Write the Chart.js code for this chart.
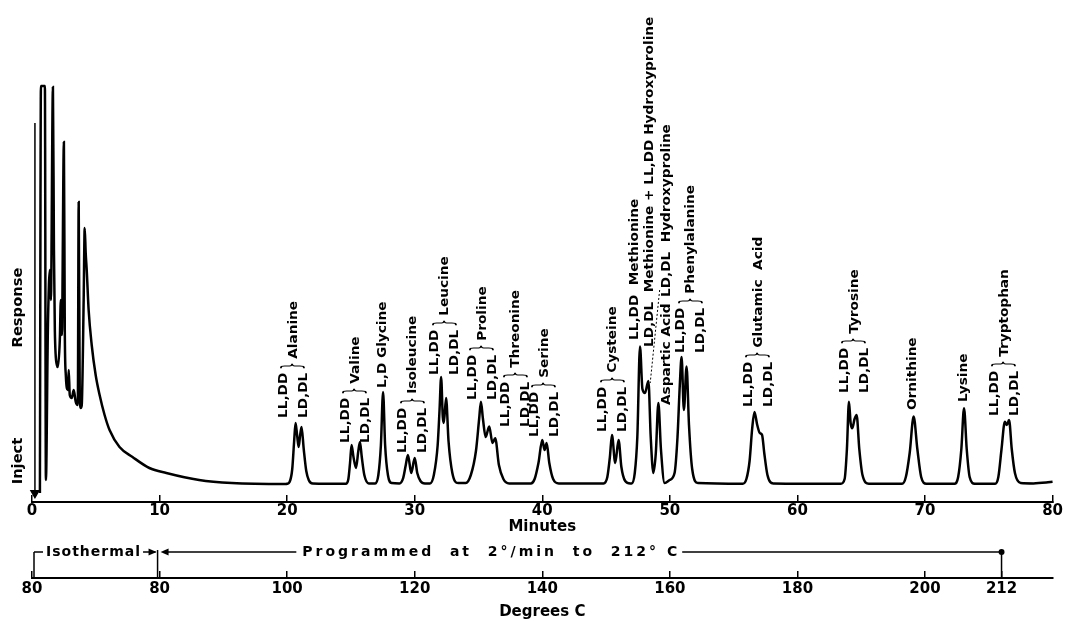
<!DOCTYPE html>
<html lang="en">
<head>
  <meta charset="UTF-8">
  <title>Amino acid dipeptide chromatogram</title>
  <script src="https://cdn.jsdelivr.net/npm/chart.js"></script>
  <style>
    html, body { margin: 0; background: #fff; }
    canvas { display: block; }
  </style>
</head>
<body>
  <canvas id="chrom" width="1070" height="621"></canvas>
  <script>
    // recorder trace: [minutes, response]
    const solventTrace = [
      [0.62, -2], [0.70, 99.75], [1.01, 99.75], [1.09, 1.25], [1.25, 40], [1.40, 53.75],
      [1.48, 46.25], [1.64, 99.5], [1.72, 58.75], [1.79, 38.75], [1.95, 30], [2.03, 29.5],
      [2.18, 36.25], [2.26, 46.25], [2.34, 37.5], [2.50, 85.75], [2.57, 38.75], [2.65, 27.5],
      [2.81, 23.75], [2.88, 28.75], [2.96, 22.5], [3.12, 21.75], [3.27, 23.75], [3.43, 20.75],
      [3.59, 20], [3.66, 70.75], [3.74, 23.75], [3.82, 19.25], [3.90, 20], [4.05, 46.25],
      [4.13, 64.25], [4.21, 58], [4.29, 53.75], [4.44, 43.75], [4.68, 35], [4.99, 27.5],
      [5.30, 22.5], [5.69, 17.5], [6.08, 13.75], [6.86, 9.5], [7.88, 7], [9.20, 4.25],
      [10.53, 3], [13.10, 1.25], [15.67, 0.5], [19.88, 0.25]
    ];
    const alanineTrace = [
      [20.0, 0.3], [20.2, 0.8], [20.4, 4], [20.55, 11], [20.66, 15.5], [20.78, 12.5], [20.90, 9.5],
      [21.02, 12.5], [21.13, 14.5], [21.3, 9], [21.5, 3.5], [21.7, 1.2], [22.0, 0.4]
    ];
    const valineTrace = [
      [24.6, 0.3], [24.8, 1.5], [24.93, 5.5], [25.05, 10], [25.2, 7], [25.40, 4.25], [25.58, 8.5],
      [25.71, 10.75], [25.85, 7], [26.05, 2.5], [26.4, 0.4]
    ];
    const glycineTrace = [
      [26.9, 0.4], [27.15, 2.5], [27.35, 10], [27.52, 23.25], [27.68, 10], [27.9, 2.5], [28.2, 0.5]
    ];
    const isoleucineTrace = [
      [28.8, 0.4], [29.1, 1.8], [29.3, 5], [29.47, 7.5], [29.73, 3], [30.0, 6.75], [30.2, 3],
      [30.45, 1], [30.8, 0.4]
    ];
    const leucineTrace = [
      [31.2, 0.4], [31.5, 2.5], [31.8, 10], [31.95, 19], [32.07, 27], [32.2, 17], [32.28, 15.5],
      [32.46, 21.75], [32.65, 11], [32.95, 3], [33.4, 0.5]
    ];
    const prolineTrace = [
      [34.0, 0.5], [34.4, 2.5], [34.8, 8.5], [35.05, 16.5], [35.19, 20.8], [35.35, 16.5],
      [35.56, 12], [35.84, 14.6], [36.10, 10.5], [36.31, 11.7], [36.6, 5], [36.95, 1.5], [37.4, 0.4]
    ];
    const serineTrace = [
      [39.1, 0.4], [39.4, 1.5], [39.7, 5.5], [40.0, 11.25], [40.18, 8.75], [40.34, 10.5],
      [40.55, 5.5], [40.85, 1.5], [41.3, 0.4]
    ];
    const cysteineTrace = [
      [44.8, 0.4], [45.1, 2], [45.3, 7], [45.46, 12.5], [45.72, 5.5], [45.98, 11.25], [46.2, 4.5],
      [46.5, 1], [46.9, 0.4]
    ];
    const methionineTrace = [
      [47.0, 0.4], [47.25, 3], [47.45, 12], [47.66, 34.6], [47.85, 24], [48.05, 23], [48.32, 26],
      [48.5, 12], [48.71, 3], [48.9, 8], [49.10, 20.5], [49.3, 9], [49.59, 0.5], [49.98, 1.25],
      [50.37, 3], [50.6, 12], [50.78, 25], [50.92, 32], [51.10, 18.75], [51.31, 29.6], [51.5, 15],
      [51.75, 4], [52.2, 0.5]
    ];
    const glutamicTrace = [
      [55.7, 0.3], [56.0, 1.5], [56.25, 6], [56.45, 14], [56.63, 18.25], [56.85, 15], [57.05, 13],
      [57.23, 12.5], [57.4, 8], [57.65, 2.5], [58.1, 0.4]
    ];
    const tyrosineTrace = [
      [63.4, 0.3], [63.7, 1.5], [63.88, 9], [64.04, 20.8], [64.17, 15.5], [64.30, 14.2],
      [64.48, 16.5], [64.64, 17.5], [64.85, 9], [65.1, 2.5], [65.6, 0.3]
    ];
    const ornithineTrace = [
      [68.2, 0.3], [68.5, 2], [68.8, 8], [69.11, 17.1], [69.4, 9], [69.7, 2], [70.1, 0.3]
    ];
    const lysineTrace = [
      [72.3, 0.3], [72.6, 2], [72.85, 9], [73.06, 19.2], [73.27, 9], [73.5, 2], [73.9, 0.3]
    ];
    const tryptophanTrace = [
      [75.5, 0.3], [75.75, 2], [76.0, 9], [76.26, 15.8], [76.42, 15], [76.59, 16.25], [76.8, 9],
      [77.05, 3], [77.5, 0.5], [78.5, 0.4], [79.5, 0.6], [80, 0.8]
    ];

    // axes
    const minuteTicks = [0, 10, 20, 30, 40, 50, 60, 70, 80];
    const degreeTickMinutes = [0, 10, 20, 30, 40, 50, 60, 70, 76];
    const degreeLabels = ['80', '80', '100', '120', '140', '160', '180', '200', '212'];

    // injection marker: time (min) and the response where the arrow starts / ends
    const injectAt = 0.23;
    const injectFrom = 90.5;
    const injectTo = -2;

    // peak labels: "LL,DD / LD,DL } name" pairs, and single columns
    const pairLines = ['LL,DD', 'LD,DL'];
    const pairedPeaks = [
      { name: 'Alanine', at: 20.47, base: 16.75 },
      { name: 'Valine', at: 25.34, base: 10.5 },
      { name: 'Isoleucine', at: 29.86, base: 8 },
      { name: 'Leucine', at: 32.36, base: 27.5 },
      { name: 'Proline', at: 35.32, base: 21.25 },
      { name: 'Threonine', at: 37.93, base: 14.5 },
      { name: 'Serine', at: 40.16, base: 12 },
      { name: 'Cysteine', at: 45.54, base: 13.25 },
      { name: 'Phenylalanine', at: 51.66, base: 33 },
      { name: 'Glutamic  Acid', at: 56.92, base: 19.5 },
      { name: 'Tyrosine', at: 64.48, base: 23 },
      { name: 'Tryptophan', at: 76.22, base: 17.25 }
    ];
    const singlePeaks = [
      { text: 'L,D Glycine', at: 27.52, base: 24.25 },
      { text: 'LL,DD  Methionine', at: 47.25, base: 36.25 },
      { text: 'LD,DL  Methionine + LL,DD Hydroxyproline', at: 48.42, base: 34.5 },
      { text: 'Aspartic Acid', at: 49.75, base: 20 },
      { text: 'LD,DL  Hydroxyproline', at: 49.75, base: 47 },
      { text: 'Ornithine', at: 69.0, base: 18.75 },
      { text: 'Lysine', at: 73.06, base: 20.75 }
    ];
    // dotted leader from the hydroxyproline label down to its shoulder
    const leaderFrom = [49.2, 48.75];
    const leaderTo = [48.46, 25.5];

    const FAMILY = '"DejaVu Sans", "Liberation Sans", sans-serif';
    const labelFont = 'bold 13px ' + FAMILY;

    const trace = [].concat(
      solventTrace, alanineTrace, valineTrace, glycineTrace, isoleucineTrace, leucineTrace,
      prolineTrace, serineTrace, cysteineTrace, methionineTrace, glutamicTrace, tyrosineTrace,
      ornithineTrace, lysineTrace, tryptophanTrace
    ).map(p => ({ x: p[0], y: p[1] }));

    // write a string bottom-to-top, starting at (x, y) on screen
    function upText(ctx, str, x, y, font, stretch, align) {
      ctx.save();
      ctx.translate(x, y);
      ctx.rotate(-Math.PI / 2);
      ctx.scale(stretch, 1);
      ctx.font = font;
      ctx.fillStyle = '#000';
      ctx.textAlign = align || 'left';
      ctx.textBaseline = 'middle';
      ctx.fillText(str, 0, 0);
      const w = ctx.measureText(str).width * stretch;
      ctx.restore();
      return w;
    }

    function arrowHead(ctx, x, y, dir) {
      ctx.beginPath();
      ctx.moveTo(x, y);
      ctx.lineTo(x - dir * 8, y - 3.5);
      ctx.lineTo(x - dir * 8, y + 3.5);
      ctx.closePath();
      ctx.fill();
    }

    function seg(ctx, x1, y1, x2, y2) {
      ctx.beginPath();
      ctx.moveTo(x1, y1);
      ctx.lineTo(x2, y2);
      ctx.stroke();
    }

    const annotations = {
      id: 'annotations',
      afterDraw(chart) {
        const ctx = chart.ctx;
        const xs = chart.scales.x, ys = chart.scales.y, x2 = chart.scales.x2;

        // peak names
        pairedPeaks.forEach(p => {
          const px = xs.getPixelForValue(p.at);
          const py = ys.getPixelForValue(p.base);
          const w1 = upText(ctx, pairLines[0], px - 10, py, labelFont, 1.05);
          const w2 = upText(ctx, pairLines[1], px + 10, py, labelFont, 1.05);
          const w = Math.max(w1, w2);
          upText(ctx, '}', px, py - w - 3, '26px ' + FAMILY, 0.45);
          upText(ctx, p.name, px, py - w - 14, labelFont, 1.05);
        });
        singlePeaks.forEach(p => {
          upText(ctx, p.text, xs.getPixelForValue(p.at), ys.getPixelForValue(p.base), labelFont, 1.05);
        });

        ctx.save();
        ctx.strokeStyle = '#000';
        ctx.fillStyle = '#000';
        ctx.lineWidth = 1;
        ctx.setLineDash([2, 2]);
        seg(ctx, xs.getPixelForValue(leaderFrom[0]), ys.getPixelForValue(leaderFrom[1]),
          xs.getPixelForValue(leaderTo[0]), ys.getPixelForValue(leaderTo[1]));
        ctx.setLineDash([]);

        // side captions
        upText(ctx, 'Response', 18, (chart.chartArea.top + chart.chartArea.bottom) / 2 + 14,
          'bold 14px ' + FAMILY, 1.05, 'center');
        upText(ctx, 'Inject', 18, ys.getPixelForValue(6), 'bold 14px ' + FAMILY, 1.05, 'center');

        // temperature programme row between the two axes
        const rowY = x2.top - 26;
        const p0 = x2.getPixelForValue(0);
        const p10 = x2.getPixelForValue(10);
        const p76 = x2.getPixelForValue(76);
        ctx.lineWidth = 1.5;
        seg(ctx, p0 + 2, x2.top, p0 + 2, rowY);
        seg(ctx, p0 + 2, rowY, p0 + 11, rowY);
        seg(ctx, p10 - 2, rowY - 2, p10 - 2, x2.top);

        ctx.font = 'bold 14px ' + FAMILY;
        ctx.textBaseline = 'middle';
        ctx.textAlign = 'left';
        ctx.letterSpacing = '1px';
        const isoW = ctx.measureText('Isothermal').width;
        ctx.fillText('Isothermal', p0 + 14, rowY);
        seg(ctx, p0 + 16 + isoW, rowY, p10 - 4, rowY);
        arrowHead(ctx, p10 - 3, rowY, 1);

        ctx.letterSpacing = '3px';
        const prog = 'Programmed  at  2°/min  to  212° C';
        const progW = ctx.measureText(prog).width;
        const pc = x2.getPixelForValue(36);
        ctx.textAlign = 'center';
        ctx.fillText(prog, pc, rowY);
        ctx.letterSpacing = '0px';
        arrowHead(ctx, p10 + 1, rowY, -1);
        seg(ctx, p10 + 4, rowY, pc - progW / 2 - 6, rowY);
        seg(ctx, pc + progW / 2 + 2, rowY, p76, rowY);
        seg(ctx, p76, rowY, p76, x2.top);
        ctx.beginPath();
        ctx.arc(p76, rowY, 3, 0, Math.PI * 2);
        ctx.fill();
        ctx.restore();
      }
    };

    const tickFont = { family: FAMILY, weight: 'bold', size: 15 };

    new Chart(document.getElementById('chrom'), {
      type: 'line',
      data: {
        datasets: [
          {
            label: 'Response',
            data: trace,
            borderColor: '#000',
            borderWidth: 2.5,
            pointRadius: 0,
            tension: 0.4,
            cubicInterpolationMode: 'monotone',
            clip: false
          },
          {
            label: 'Inject',
            data: [{ x: injectAt, y: injectFrom }, { x: injectAt, y: injectTo }],
            borderColor: '#000',
            borderWidth: 1.5,
            pointRadius: [0, 4.5],
            pointStyle: 'triangle',
            rotation: 180,
            pointBackgroundColor: '#000',
            pointBorderColor: '#000',
            clip: false
          }
        ]
      },
      options: {
        responsive: false,
        animation: false,
        devicePixelRatio: 1,
        layout: { padding: { left: 32, right: 12, top: 85, bottom: 0 } },
        plugins: {
          legend: { display: false },
          tooltip: { enabled: false }
        },
        scales: {
          y: { display: false, min: -4.25, max: 100 },
          x: {
            type: 'linear',
            position: 'bottom',
            min: 0,
            max: 80,
            afterBuildTicks: s => { s.ticks = minuteTicks.map(v => ({ value: v })); },
            afterFit: s => { s.height = 76; },
            border: { color: '#000', width: 2 },
            grid: { drawOnChartArea: false, tickLength: -7, color: '#000', lineWidth: 1.5 },
            ticks: { color: '#000', font: tickFont, padding: 7, autoSkip: false, maxRotation: 0 },
            title: {
              display: true, text: 'Minutes', color: '#000',
              font: { family: FAMILY, weight: 'bold', size: 15 },
              padding: { top: 0, bottom: 42 }
            }
          },
          x2: {
            type: 'linear',
            position: 'bottom',
            min: 0,
            max: 80,
            afterBuildTicks: s => { s.ticks = degreeTickMinutes.map(v => ({ value: v })); },
            afterFit: s => { s.height = 43; },
            border: { color: '#000', width: 2 },
            grid: { drawOnChartArea: false, tickLength: -7, color: '#000', lineWidth: 1.5 },
            ticks: {
              color: '#000', font: tickFont, padding: 9, autoSkip: false, maxRotation: 0,
              callback: v => degreeLabels[degreeTickMinutes.indexOf(v)]
            },
            title: {
              display: true, text: 'Degrees C', color: '#000',
              font: { family: FAMILY, weight: 'bold', size: 15 },
              padding: { top: 0, bottom: 0 }
            }
          }
        }
      },
      plugins: [annotations]
    });
  </script>
</body>
</html>
